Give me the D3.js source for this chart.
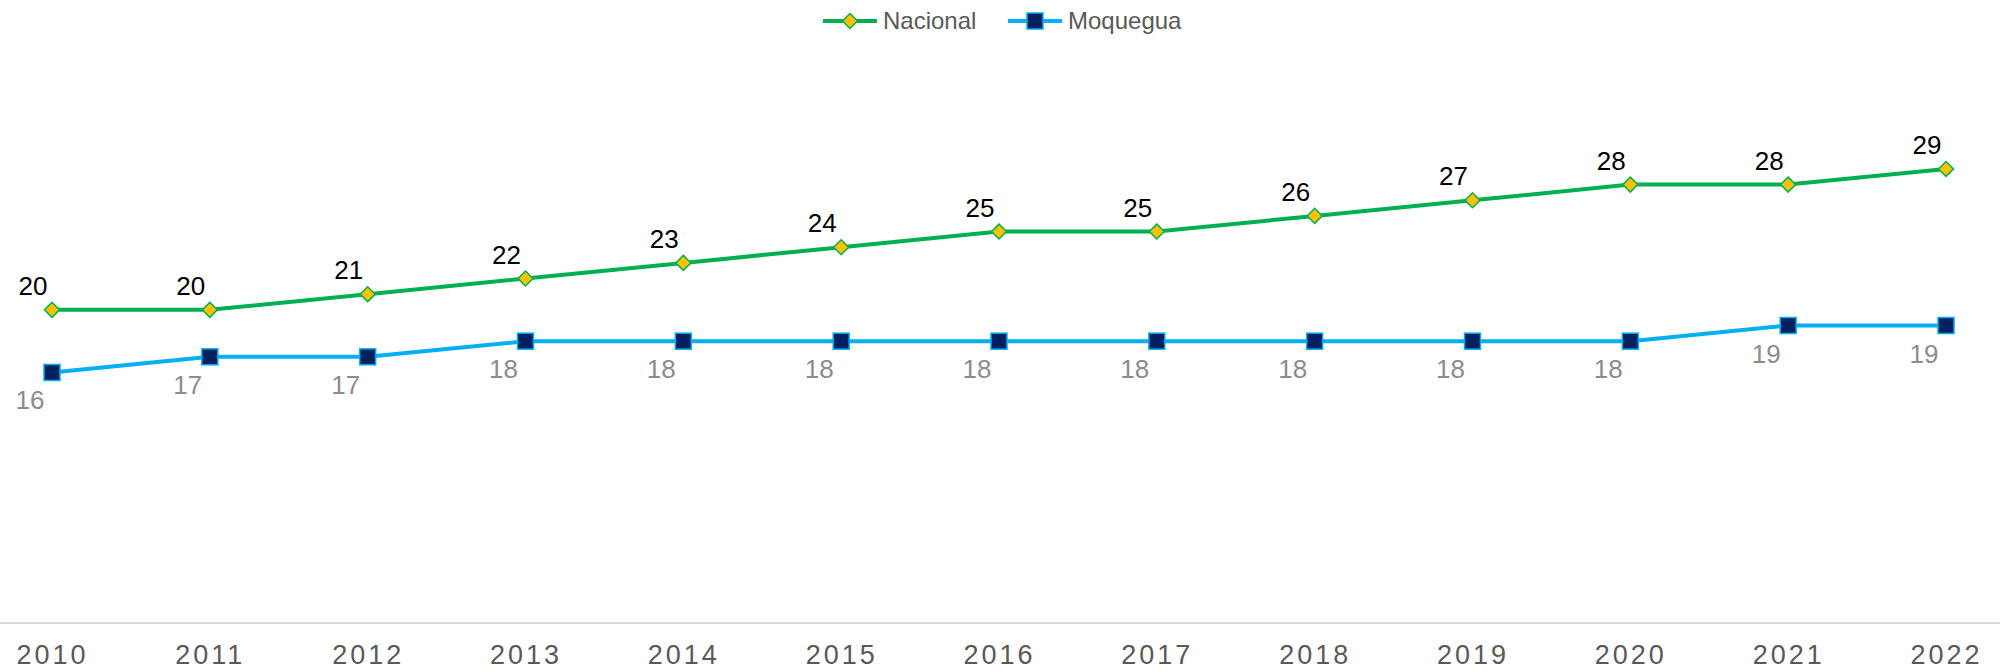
<!DOCTYPE html>
<html>
<head>
<meta charset="utf-8">
<script src="https://cdn.jsdelivr.net/npm/d3@7"></script>
<style>
  body { margin: 0; background: #fff; }
  svg { display: block; font-family: "Liberation Sans", Arial, sans-serif; }
</style>
</head>
<body>
<div id="chart"></div>
<script>
// datos
const years = ["2010","2011","2012","2013","2014","2015","2016","2017","2018","2019","2020","2021","2022"];
const nacional = [20, 20, 21, 22, 23, 24, 25, 25, 26, 27, 28, 28, 29];
const moquegua = [16, 17, 17, 18, 18, 18, 18, 18, 18, 18, 18, 19, 19];
const seriesNames = ["Nacional", "Moquegua"];

const width = 2000, height = 672;

const svg = d3.select("#chart").append("svg")
  .attr("width", width)
  .attr("height", height);

// escalas
const x = d3.scalePoint().domain(years).range([52, 1946]);
const y = d3.scaleLinear().domain([0, 35]).range([623, 75]);

// eje X
const xAxis = svg.append("g")
  .attr("transform", `translate(0,${y(0)})`)
  .call(d3.axisBottom(x).tickSize(0).tickPadding(22));
xAxis.select(".domain").remove();
xAxis.selectAll("text")
  .style("font-size", "27px")
  .style("letter-spacing", "3px")
  .style("fill", "#595959")
  .style("font-family", "'Liberation Sans', Arial, sans-serif");

svg.append("line")
  .attr("x1", 0).attr("x2", width)
  .attr("y1", y(0)).attr("y2", y(0))
  .style("stroke", "#d9d9d9")
  .style("stroke-width", 2);

const line = d3.line().x((d, i) => x(years[i])).y(d => y(d));

// Nacional
svg.append("path")
  .datum(nacional)
  .attr("d", line)
  .style("fill", "none")
  .style("stroke", "#00b050")
  .style("stroke-width", 4);

// Moquegua
svg.append("path")
  .datum(moquegua)
  .attr("d", line)
  .style("fill", "none")
  .style("stroke", "#00b0f0")
  .style("stroke-width", 4);

const diamond = d3.symbol().type(d3.symbolSquare).size(112);

svg.selectAll("path.nac")
  .data(nacional)
  .enter().append("path")
    .attr("class", "nac")
    .attr("d", diamond)
    .attr("transform", (d, i) => `translate(${x(years[i])},${y(d)}) rotate(45)`)
    .style("fill", "#ffc000")
    .style("stroke", "#00b050")
    .style("stroke-width", 1.5);

svg.selectAll("rect.moq")
  .data(moquegua)
  .enter().append("rect")
    .attr("class", "moq")
    .attr("x", (d, i) => x(years[i]) - 8)
    .attr("y", d => y(d) - 8)
    .attr("width", 16)
    .attr("height", 16)
    .style("fill", "#002060")
    .style("stroke", "#00b0f0")
    .style("stroke-width", 1.5);

// etiquetas
svg.selectAll("text.lnac")
  .data(nacional)
  .enter().append("text")
    .attr("class", "lnac")
    .attr("x", (d, i) => x(years[i]) - 19)
    .attr("y", d => y(d) - 15)
    .attr("text-anchor", "middle")
    .style("font-size", "26px")
    .style("fill", "#000")
    .text(d => d);

svg.selectAll("text.lmoq")
  .data(moquegua)
  .enter().append("text")
    .attr("class", "lmoq")
    .attr("x", (d, i) => x(years[i]) - 22)
    .attr("y", d => y(d) + 37)
    .attr("text-anchor", "middle")
    .style("font-size", "26px")
    .style("fill", "#8c8c8c")
    .text(d => d);

// leyenda
const legend = svg.append("g");
const legendX = [823, 1008];
const legendColors = [["#00b050", "#ffc000"], ["#00b0f0", "#002060"]];
seriesNames.forEach((name, i) => {
  const g = legend.append("g").attr("transform", `translate(${legendX[i]},21)`);
  g.append("line")
    .attr("x1", 0).attr("x2", 54)
    .style("stroke", legendColors[i][0])
    .style("stroke-width", 4);
  if (i === 0) {
    g.append("path")
      .attr("d", diamond)
      .attr("transform", "translate(27,0) rotate(45)")
      .style("fill", legendColors[i][1])
      .style("stroke", legendColors[i][0])
      .style("stroke-width", 1.5);
  } else {
    g.append("rect")
      .attr("x", 19).attr("y", -8)
      .attr("width", 16).attr("height", 16)
      .style("fill", legendColors[i][1])
      .style("stroke", legendColors[i][0])
      .style("stroke-width", 1.5);
  }
  g.append("text")
    .attr("x", 60)
    .attr("y", 8)
    .style("font-size", "24px")
    .style("fill", "#595959")
    .text(name);
});
</script>
</body>
</html>
